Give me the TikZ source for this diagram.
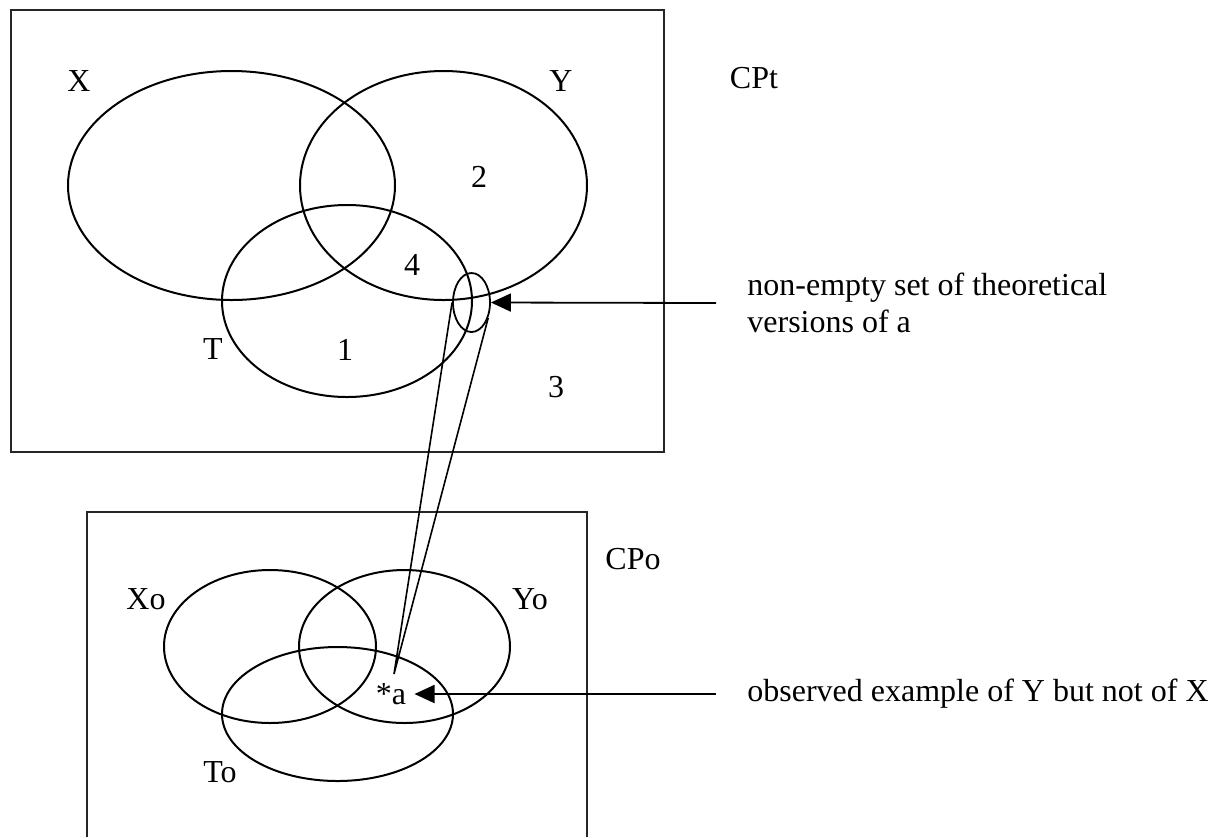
\documentclass[tikz,border=0pt]{standalone}
\usepackage{fontspec}
\setmainfont{Liberation Serif}
\usetikzlibrary{shapes.geometric,arrows.meta}

\tikzset{
  space/.style={draw=black!85, line width=1pt},
  venn/.style={ellipse, draw, line width=1pt, inner sep=0pt},
  pointer/.style={-{Triangle[length=10pt,width=9pt]}, line width=0.9pt},
}

\begin{document}
\begin{tikzpicture}[x=0.5pt, y=-0.5pt,
    every node/.style={font=\fontsize{16}{18.5}\selectfont}]
  \useasboundingbox (0,0) rectangle (1216,837);
  % theoretical space CPt
  \draw[space] (11,10) rectangle (664,452);
  \node[venn, minimum width=163.5pt, minimum height=114.5pt] (setX) at (231.5,185.5) {};
  \node[venn, minimum width=143.5pt, minimum height=114.5pt] (setY) at (443.5,185.5) {};
  \node[venn, minimum width=125pt, minimum height=96pt] (setT) at (347,301) {};
  \node[venn, minimum width=18.5pt, minimum height=29.5pt, line width=0.9pt] (theo) at (471.5,302.5) {};
  \node (lX) at (79,81) {X};
  \node (lY) at (561,81) {Y};
  \node (lT) at (213,349) {T};
  \node (CPt) at (754,78) {CPt};
  \node (r1) at (345,350) {1};
  \node (r2) at (479,177) {2};
  \node (r3) at (556,387) {3};
  \node (r4) at (412,265) {4};
  % base west of a two-line node is the baseline of its last line
  \node[anchor=base west, align=left, inner sep=0pt] (note) at (747,332)
    {non-empty set of theoretical\\versions of a};
  \draw[pointer] ([shift={(-15.5pt,14.5pt)}]note.base west) -- (theo.east);

  % observed space CPo
  \draw[space] (87,837) -- (87,512) -- (587,512) -- (587,837);
  \node[venn, minimum width=106pt, minimum height=76.5pt] (setXo) at (270,646.5) {};
  \node[venn, minimum width=105.5pt, minimum height=76.5pt] (setYo) at (404.5,646.5) {};
  \node[venn, minimum width=115.5pt, minimum height=67pt] (setTo) at (337.5,714) {};
  \node (lXo) at (146,599) {Xo};
  \node (lYo) at (530,599) {Yo};
  \node (lTo) at (220,772) {To};
  \node (CPo) at (633,559) {CPo};
  \node[inner sep=4pt] (astar) at (391,694) {*a};
  \node[anchor=west, inner sep=0pt] (obs) at (747,694)
    {observed example of Y but not of X};
  \draw[pointer] ([xshift=-15.5pt]obs.west) -- (astar.east);

  % link from a to its theoretical versions
  \coordinate (tip) at (394,674);
  \draw[line width=0.8pt] (theo.west) -- (tip) -- (theo.-43);
\end{tikzpicture}
\end{document}
